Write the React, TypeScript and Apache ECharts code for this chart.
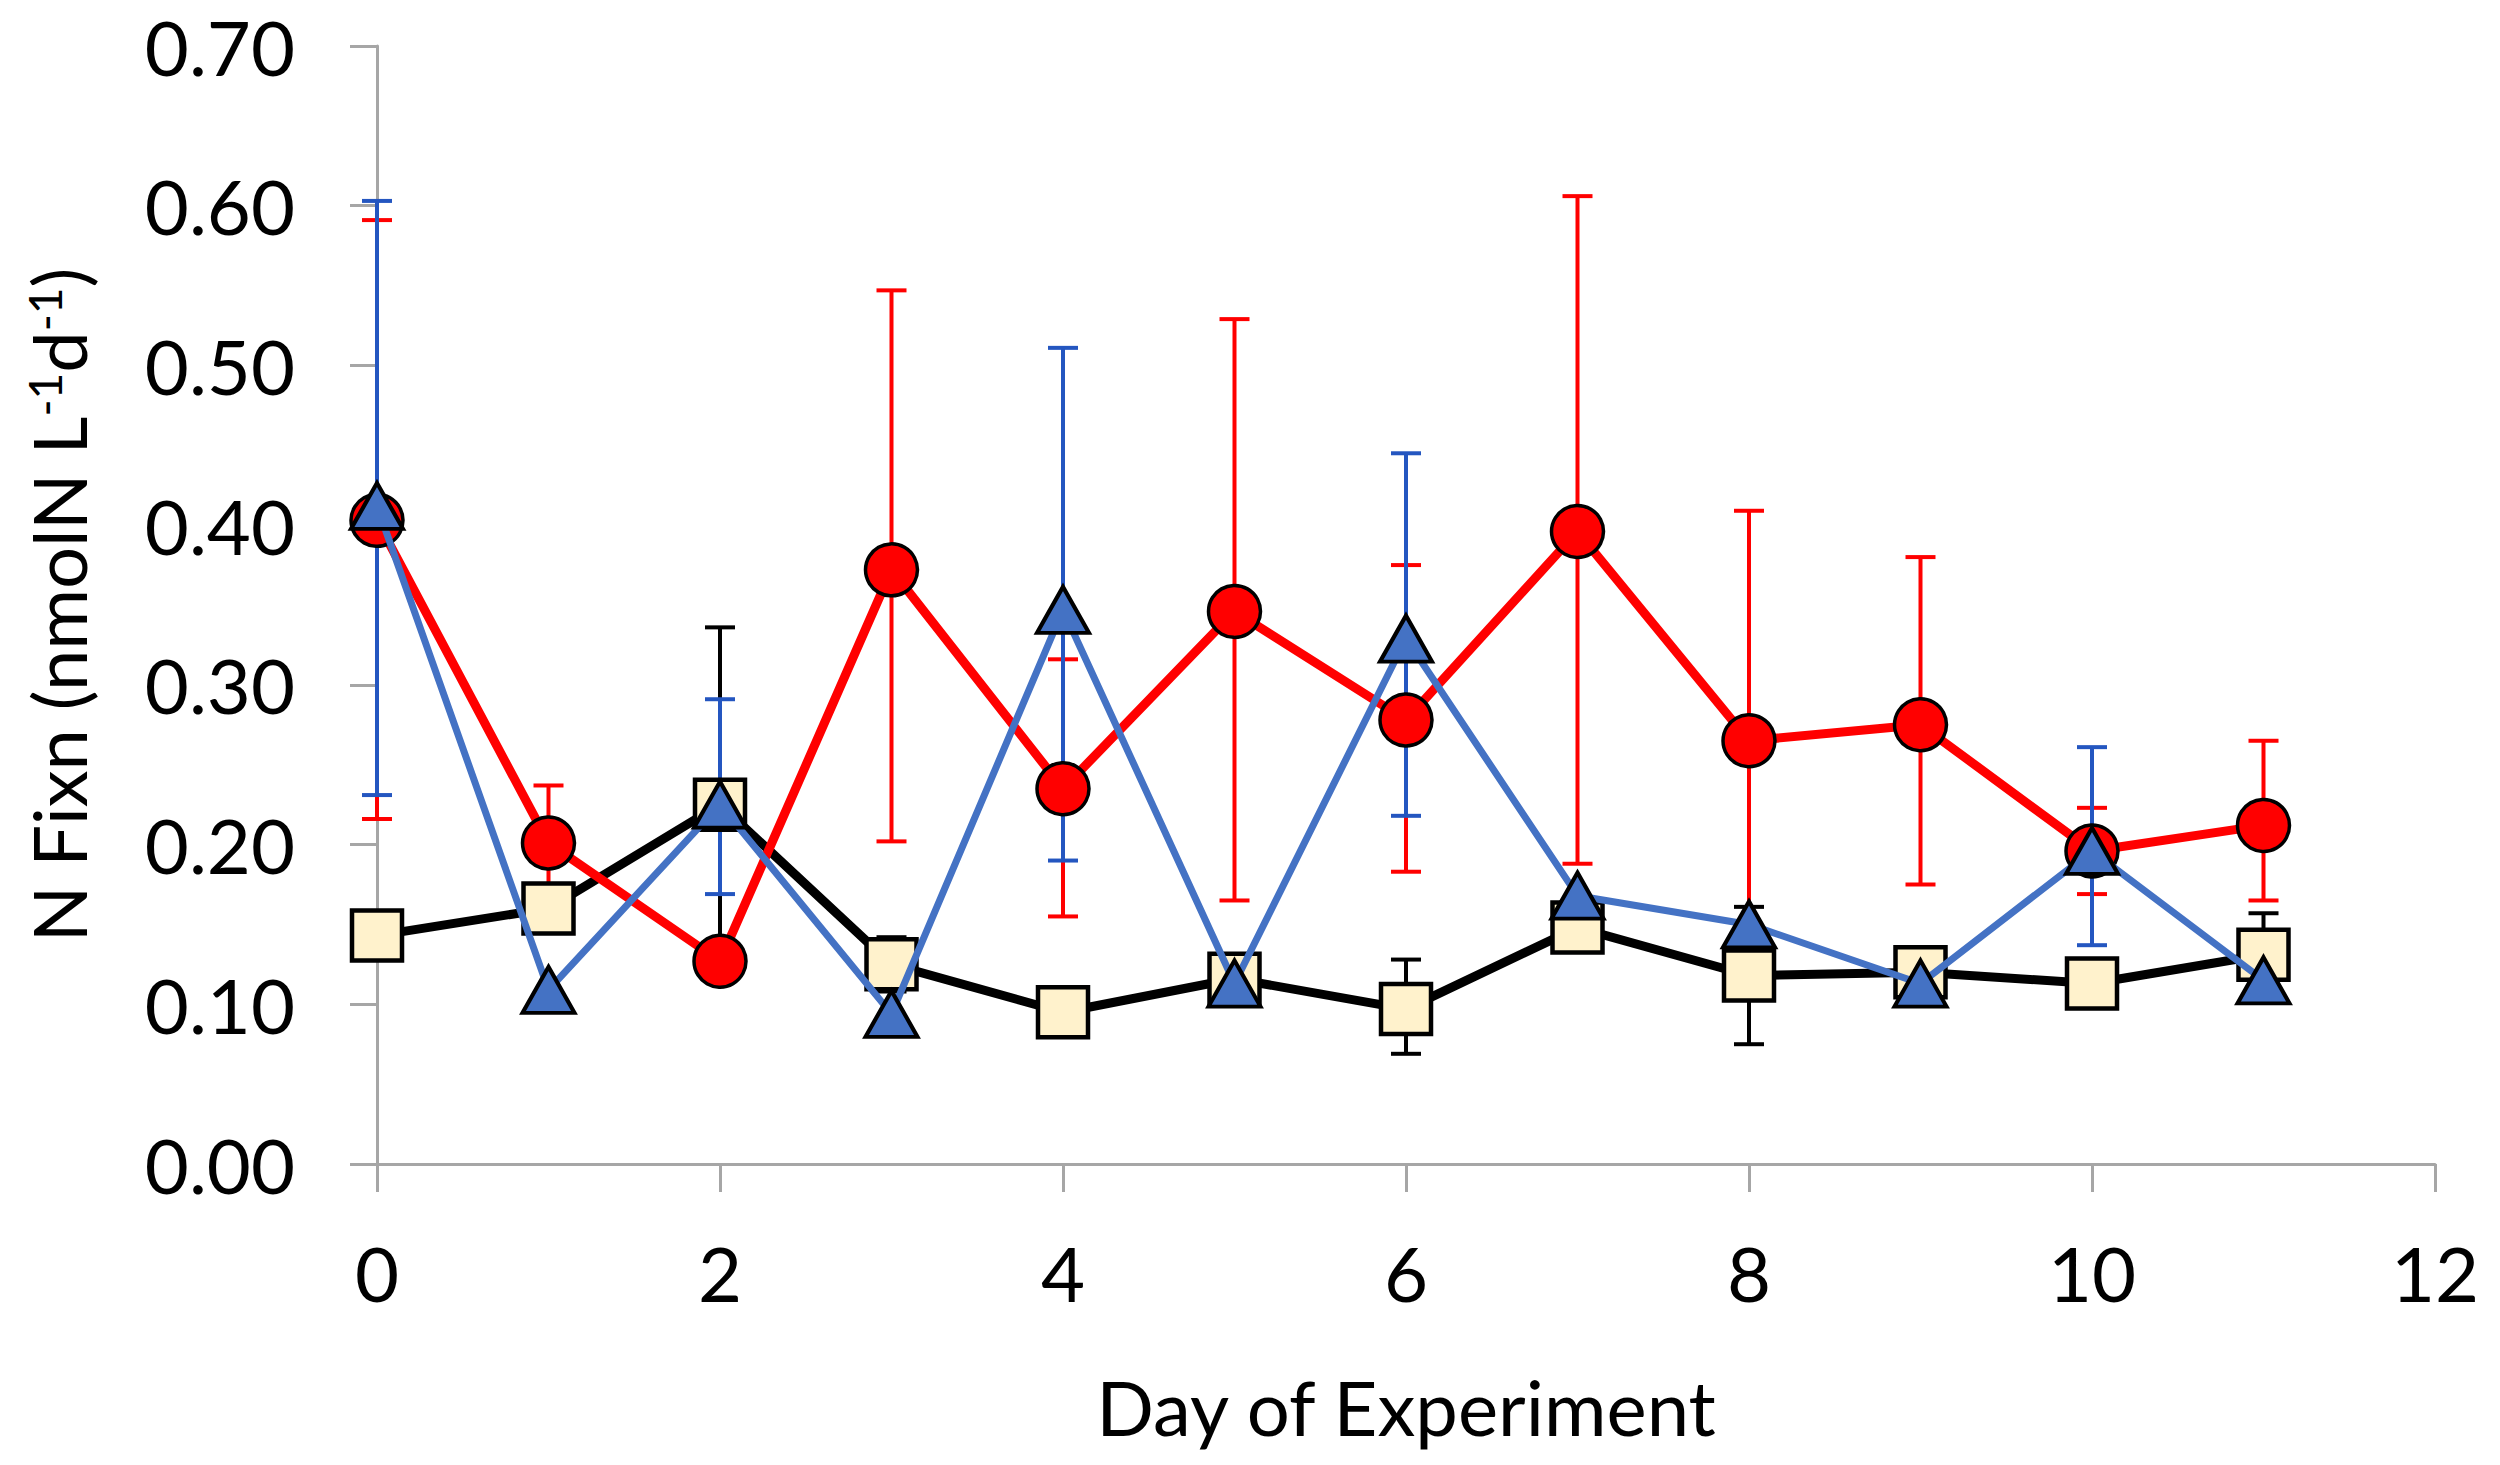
import { useEffect, useRef } from 'react';
import * as echarts from 'echarts';

// Day of experiment
const days = [0, 1, 2, 3, 4, 5, 6, 7, 8, 9, 10, 11];

// Black line, cream squares
const squareMean = [0.143, 0.16, 0.225, 0.125, 0.095, 0.116, 0.097, 0.148, 0.118, 0.12, 0.113, 0.131];
const squareLow = [null, null, 0.114, 0.108, null, null, 0.069, null, 0.075, null, null, 0.105];
const squareHigh = [null, null, 0.336, 0.142, null, null, 0.128, null, 0.161, null, null, 0.157];

// Red line, red circles
const circleMean = [0.403, 0.201, 0.127, 0.372, 0.235, 0.346, 0.278, 0.396, 0.265, 0.275, 0.196, 0.212];
const circleLow = [0.216, 0.166, null, 0.202, 0.155, 0.165, 0.183, 0.188, 0.121, 0.175, 0.169, 0.165];
const circleHigh = [0.591, 0.237, null, 0.547, 0.316, 0.529, 0.375, 0.606, 0.409, 0.38, 0.223, 0.265];

// Blue line, blue triangles
const triangleMean = [0.412, 0.109, 0.225, 0.094, 0.347, 0.113, 0.329, 0.168, 0.15, 0.113, 0.196, 0.115];
const triangleLow = [0.231, null, 0.169, null, 0.19, null, 0.218, null, null, null, 0.137, null];
const triangleHigh = [0.603, null, 0.291, null, 0.511, null, 0.445, null, null, null, 0.261, null];

const FONT = 'Lato, "DejaVu Sans", sans-serif';
const AXIS_GREY = '#a6a6a6';

const pairs = (ys: number[]) => days.map((d, i) => [d, ys[i]]);

const bars = (lo: (number | null)[], hi: (number | null)[]) =>
  days
    .map((d, i) => (lo[i] == null || hi[i] == null ? null : [d, lo[i], hi[i]]))
    .filter((v) => v !== null) as number[][];

function errorSeries(data: number[][], color: string, z: number) {
  return {
    type: 'custom',
    z,
    silent: true,
    data,
    encode: { x: 0, y: [1, 2] },
    renderItem: (_params: any, api: any) => {
      const x = api.value(0);
      const top = api.coord([x, api.value(2)]);
      const bot = api.coord([x, api.value(1)]);
      const cap = 15;
      const style = { stroke: color, lineWidth: 4 };
      return {
        type: 'group',
        children: [
          { type: 'line', shape: { x1: top[0], y1: top[1], x2: bot[0], y2: bot[1] }, style },
          { type: 'line', shape: { x1: top[0] - cap, y1: top[1], x2: top[0] + cap, y2: top[1] }, style },
          { type: 'line', shape: { x1: bot[0] - cap, y1: bot[1], x2: bot[0] + cap, y2: bot[1] }, style },
        ],
      };
    },
  };
}

export default function App() {
  const el = useRef<HTMLDivElement>(null);

  useEffect(() => {
    if (!el.current) return;
    const chart = echarts.init(el.current, null, { renderer: 'svg' });

    chart.setOption({
      animation: false,
      backgroundColor: '#fff',
      grid: { left: 377, right: 65, top: 46, bottom: 301 },
      xAxis: {
        type: 'value',
        min: 0,
        max: 12,
        interval: 2,
        name: 'Day of Experiment',
        nameLocation: 'middle',
        nameGap: 204,
        nameTextStyle: { fontFamily: FONT, fontSize: 76, color: '#000' },
        axisLine: { lineStyle: { color: AXIS_GREY, width: 3 } },
        axisTick: { show: true, length: 28, lineStyle: { color: AXIS_GREY, width: 3 } },
        axisLabel: { fontFamily: FONT, fontSize: 76, color: '#000', margin: 70 },
        splitLine: { show: false },
      },
      yAxis: {
        type: 'value',
        min: 0,
        max: 0.7,
        interval: 0.1,
        name: 'N Fixn (nmolN L{s|-1}d{s|-1})',
        nameLocation: 'middle',
        nameRotate: 90,
        nameGap: 282,
        nameTextStyle: {
          fontFamily: FONT,
          fontSize: 74,
          color: '#000',
          rich: { s: { fontFamily: FONT, fontSize: 46, color: '#000', verticalAlign: 'top' } },
        },
        axisLine: { show: true, lineStyle: { color: AXIS_GREY, width: 3 } },
        axisTick: { show: true, length: 27, lineStyle: { color: AXIS_GREY, width: 3 } },
        axisLabel: {
          fontFamily: FONT,
          fontSize: 76,
          lineHeight: 62,
          color: '#000',
          margin: 82,
          formatter: (v: number) => v.toFixed(2),
        },
        splitLine: { show: false },
      },
      series: [
        errorSeries(bars(squareLow, squareHigh), '#000000', 1),
        errorSeries(bars(circleLow, circleHigh), '#ff0000', 1),
        errorSeries(bars(triangleLow, triangleHigh), '#2456c0', 1),
        {
          type: 'line',
          z: 2,
          data: pairs(squareMean),
          lineStyle: { color: '#000', width: 9 },
          symbol: 'rect',
          symbolSize: 50,
          itemStyle: { color: '#fff2cc', borderColor: '#000', borderWidth: 4.5 },
        },
        {
          type: 'line',
          z: 3,
          data: pairs(circleMean),
          lineStyle: { color: '#ff0000', width: 9 },
          symbol: 'circle',
          symbolSize: 52,
          itemStyle: { color: '#ff0000', borderColor: '#000', borderWidth: 3.5 },
        },
        {
          type: 'line',
          z: 4,
          data: pairs(triangleMean),
          lineStyle: { color: '#4472c4', width: 7 },
          symbol: 'triangle',
          symbolSize: [52, 46],
          itemStyle: { color: '#4472c4', borderColor: '#000', borderWidth: 4 },
        },
      ],
    });

    return () => chart.dispose();
  }, []);

  return (
    <div
      ref={el}
      style={{ position: 'fixed', left: 0, top: 0, width: 2500, height: 1465, background: '#fff' }}
    />
  );
}
